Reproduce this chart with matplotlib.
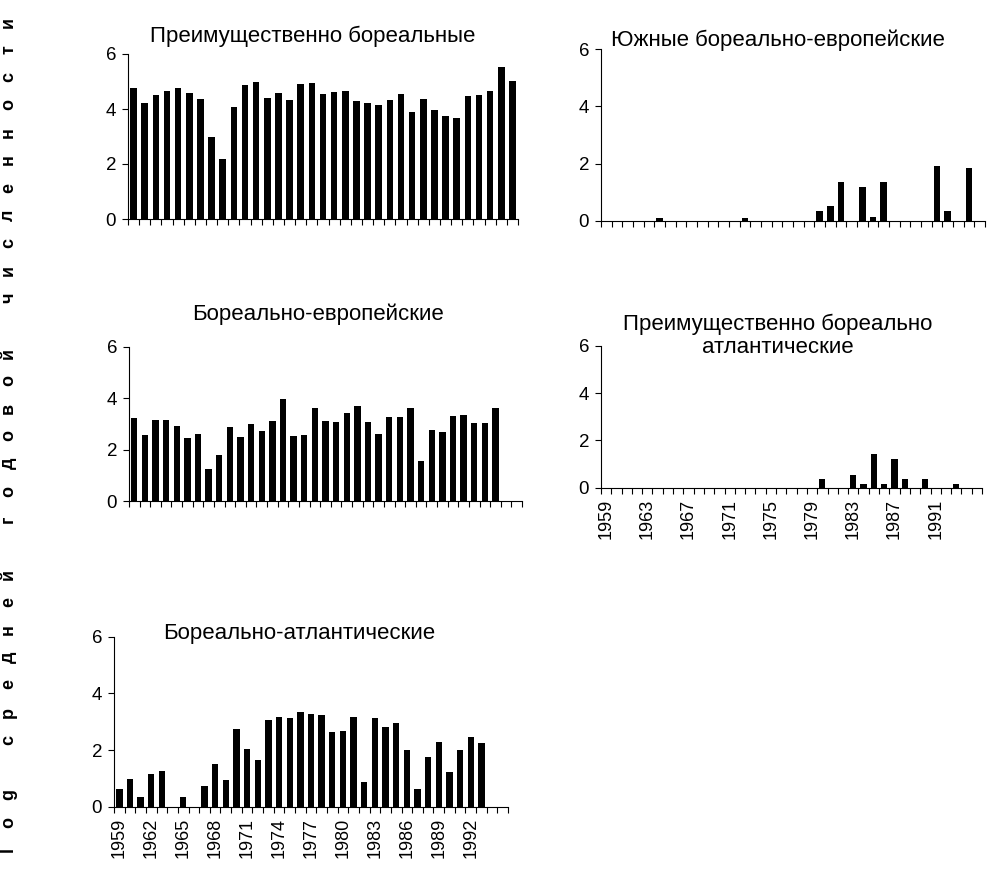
import numpy as np
import matplotlib
matplotlib.use('Agg')
import matplotlib.pyplot as plt

plt.rcParams['font.family'] = ['Liberation Sans', 'DejaVu Sans']

years = list(range(1959, 1994))

# Преимущественно бореальные
boreal = [4.75, 4.23, 4.50, 4.67, 4.78, 4.60, 4.37, 2.97, 2.20, 4.06,
          4.87, 4.98, 4.41, 4.57, 4.34, 4.90, 4.93, 4.53, 4.61, 4.64,
          4.28, 4.21, 4.14, 4.34, 4.53, 3.89, 4.37, 3.95, 3.75, 3.66,
          4.46, 4.52, 4.67, 5.54, 5.02]

# Южные бореально-европейские (36 категорий)
south_eu = [0, 0, 0, 0, 0, 0.10, 0, 0, 0, 0,
            0, 0, 0, 0.10, 0, 0, 0, 0, 0, 0,
            0.34, 0.51, 1.37, 0, 1.18, 0.13, 1.37, 0, 0, 0,
            0, 1.91, 0.34, 0, 1.86, 0]

# Бореально-европейские
boreal_eu = [3.24, 2.56, 3.15, 3.16, 2.91, 2.45, 2.62, 1.26, 1.79, 2.89,
             2.49, 2.99, 2.73, 3.13, 3.95, 2.54, 2.58, 3.63, 3.10, 3.06,
             3.42, 3.69, 3.07, 2.60, 3.28, 3.26, 3.63, 1.55, 2.75, 2.68,
             3.30, 3.34, 3.02, 3.04, 3.60]

# Преимущественно бореально атлантические
boreal_atl_main = [0, 0, 0, 0, 0, 0, 0, 0, 0, 0,
                   0, 0, 0, 0, 0, 0, 0, 0, 0, 0,
                   0, 0.35, 0, 0, 0.54, 0.16, 1.42, 0.16, 1.20, 0.35,
                   0, 0.35, 0, 0, 0.15]

# Бореально-атлантические
boreal_atl = [0.64, 0.99, 0.33, 1.15, 1.27, 0, 0.33, 0, 0.74, 1.52,
              0.94, 2.76, 2.04, 1.65, 3.05, 3.15, 3.12, 3.34, 3.28, 3.25,
              2.65, 2.68, 3.15, 0.88, 3.12, 2.80, 2.96, 2.00, 0.64, 1.75,
              2.28, 1.24, 1.99, 2.46, 2.25]

W, H = 990, 874
fig = plt.figure(figsize=(W / 100, H / 100), dpi=100)


def px_axes(x0, y0, x1, y1):
    # y0 - верх, y1 - низ оси, в пикселях картинки
    return fig.add_axes([x0 / W, 1 - y1 / H, (x1 - x0) / W, (y1 - y0) / H])


def panel(ax, values, ncat, title, tx, ty, step=None):
    x = np.arange(len(values))
    ax.bar(x, values, width=0.6, color='black')
    ax.set_xlim(-0.5, ncat - 0.5)
    ax.set_ylim(0, 6)
    ax.set_yticks([0, 2, 4, 6])
    ax.tick_params(axis='y', direction='out', length=4.5, width=0.8,
                   labelsize=13.5, pad=4)
    ax.set_xticks(np.arange(-0.5, ncat, 1), minor=True)
    ax.tick_params(axis='x', which='minor', direction='out', length=4,
                   width=0.8)
    if step:
        pos = list(range(0, len(years), step))
        ax.set_xticks(pos)
        ax.set_xticklabels([str(years[i]) for i in pos], rotation=90,
                           fontsize=13)
        ax.tick_params(axis='x', which='major', length=0, pad=8)
    else:
        ax.set_xticks([])
    for s in ['top', 'right']:
        ax.spines[s].set_visible(False)
    for s in ['left', 'bottom']:
        ax.spines[s].set_linewidth(0.8)
    ax.text(tx, ty, title, transform=ax.transAxes, ha='center',
            va='center', fontsize=16, linespacing=1.1)


ax1 = px_axes(128, 54, 518, 219)
panel(ax1, boreal, 35, 'Преимущественно бореальные', 0.474, 1.109)

ax2 = px_axes(601, 49.3, 985, 220.7)
panel(ax2, south_eu, 36, 'Южные бореально-европейские', 0.461, 1.054)

ax3 = px_axes(129, 346.7, 522, 501)
panel(ax3, boreal_eu, 37, 'Бореально-европейские', 0.481, 1.212)

ax4 = px_axes(601, 345.7, 982, 487.7)
panel(ax4, boreal_atl_main, 37, 'Преимущественно бореально\nатлантические',
      0.465, 1.068, step=4)

ax5 = px_axes(114, 636.7, 508, 806.7)
panel(ax5, boreal_atl, 37, 'Бореально-атлантические', 0.47, 1.016, step=3)

# подпись оси Y разрядкой, по одной букве
ylabel = 'log средней годовой численности'
top, bottom = 22, 850
pitch = (bottom - top) / (len(ylabel) - 1)
for i, ch in enumerate(ylabel):
    if ch == ' ':
        continue
    fig.text(13 / W, 1 - (bottom - i * pitch) / H, ch, rotation=90,
             rotation_mode='anchor', ha='center', va='baseline',
             fontsize=13, fontweight='bold')

plt.savefig('out.png', dpi=100)
